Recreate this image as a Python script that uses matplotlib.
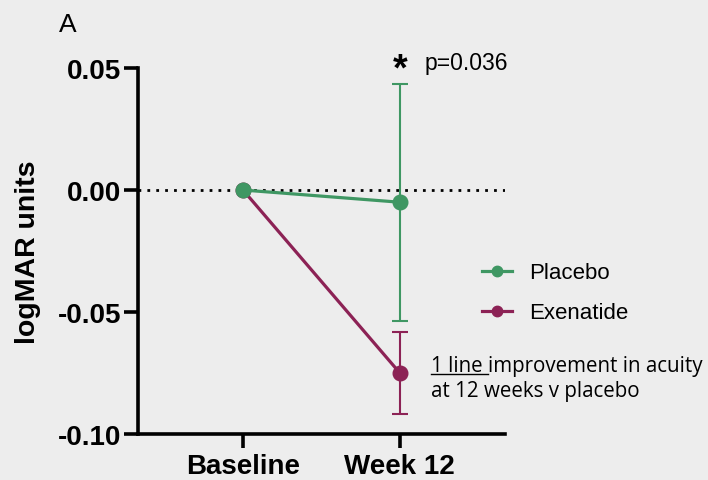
import matplotlib
matplotlib.use("Agg")
import matplotlib.pyplot as plt
from matplotlib.lines import Line2D

# Timepoints and group means (logMAR change from baseline) with error bars
timepoints = ["Baseline", "Week 12"]
placebo_mean = [0.0, -0.005]
placebo_err = [0.0, 0.0485]
exenatide_mean = [0.0, -0.075]
exenatide_err = [0.0, 0.0167]
yticks = [0.05, 0.00, -0.05, -0.10]

green = "#3f9763"
maroon = "#8c2255"
bg = "#ededed"
bold_font = ["Liberation Sans", "DejaVu Sans"]

fig = plt.figure(figsize=(7.08, 4.81), dpi=100, facecolor=bg)
ax = fig.add_axes([0.195, 0.0956, 0.518, 0.7609], facecolor=bg)

x = list(range(len(timepoints)))

ax.axhline(0, color="black", linestyle=(0, (1, 2.2)), linewidth=2.0, zorder=1)

# Error bars at week 12 only
ax.errorbar(x[1:], exenatide_mean[1:], yerr=exenatide_err[1:], fmt="none",
            ecolor=maroon, elinewidth=1.5, capsize=5.5, capthick=1.5, zorder=2)
ax.errorbar(x[1:], placebo_mean[1:], yerr=placebo_err[1:], fmt="none",
            ecolor=green, elinewidth=1.5, capsize=5.5, capthick=1.5, zorder=2)

ax.plot(x, exenatide_mean, color=maroon, linewidth=2.3, marker="o",
        markersize=10.5, zorder=3, label="Exenatide")
ax.plot(x, placebo_mean, color=green, linewidth=2.3, marker="o",
        markersize=10.5, zorder=4, label="Placebo")

ax.set_xlim(-0.669, 1.669)
ax.set_ylim(-0.10, 0.05)
ax.set_yticks(yticks)
ax.set_yticklabels([f"{v:.2f}" for v in yticks])
ax.set_xticks(x)
ax.set_xticklabels(timepoints)

for side in ["top", "right"]:
    ax.spines[side].set_visible(False)
for side in ["left", "bottom"]:
    ax.spines[side].set_linewidth(2.6)
ax.tick_params(axis="both", width=2.6, length=10, color="black", pad=2)
ax.tick_params(axis="x", pad=4)
for lbl in ax.get_yticklabels() + ax.get_xticklabels():
    lbl.set_fontfamily(bold_font)
    lbl.set_fontweight("bold")
    lbl.set_fontsize(20)

ax.set_ylabel("logMAR units", fontfamily=bold_font, fontweight="bold",
              fontsize=20.5, labelpad=12)

fig.text(0.096, 0.947, "A", fontsize=19, fontfamily=bold_font, ha="center",
         va="center")

# Significance marker
ax.text(1, 0.0495, "*", fontsize=27, fontweight="bold", fontfamily=bold_font,
        ha="center", va="center")
ax.text(1.16, 0.0523, "p=0.036", fontsize=16.5, fontfamily=bold_font,
        ha="left", va="center")

# Legend
handles = [
    Line2D([], [], color=green, linewidth=2.3, marker="o", markersize=7.5),
    Line2D([], [], color=maroon, linewidth=2.3, marker="o", markersize=7.5),
]
fig.legend(handles, ["Placebo", "Exenatide"], loc="center left",
           bbox_to_anchor=(0.653, 0.389), frameon=False,
           prop={"family": bold_font, "size": 16}, handlelength=1.35,
           labelspacing=0.85, handletextpad=0.75)

# Annotation with underlined lead phrase
note_font = ["Open Sans", "DejaVu Sans"]
ny1, ny2 = 0.239, 0.186
t1 = fig.text(0.609, ny1, "1 line ", fontsize=14.8, fontfamily=note_font,
              ha="left", va="center")
fig.canvas.draw()
renderer = fig.canvas.get_renderer()
bb = t1.get_window_extent(renderer).transformed(fig.transFigure.inverted())
fig.text(bb.x1, ny1, "improvement in acuity", fontsize=14.8,
         fontfamily=note_font, ha="left", va="center")
fig.text(0.609, ny2, "at 12 weeks v placebo", fontsize=14.8,
         fontfamily=note_font, ha="left", va="center")
uy = bb.y0 + 0.004
fig.add_artist(Line2D([bb.x0, bb.x1], [uy, uy], color="black", linewidth=1.0,
                      transform=fig.transFigure))

fig.savefig("out.png", dpi=100, facecolor=bg)
